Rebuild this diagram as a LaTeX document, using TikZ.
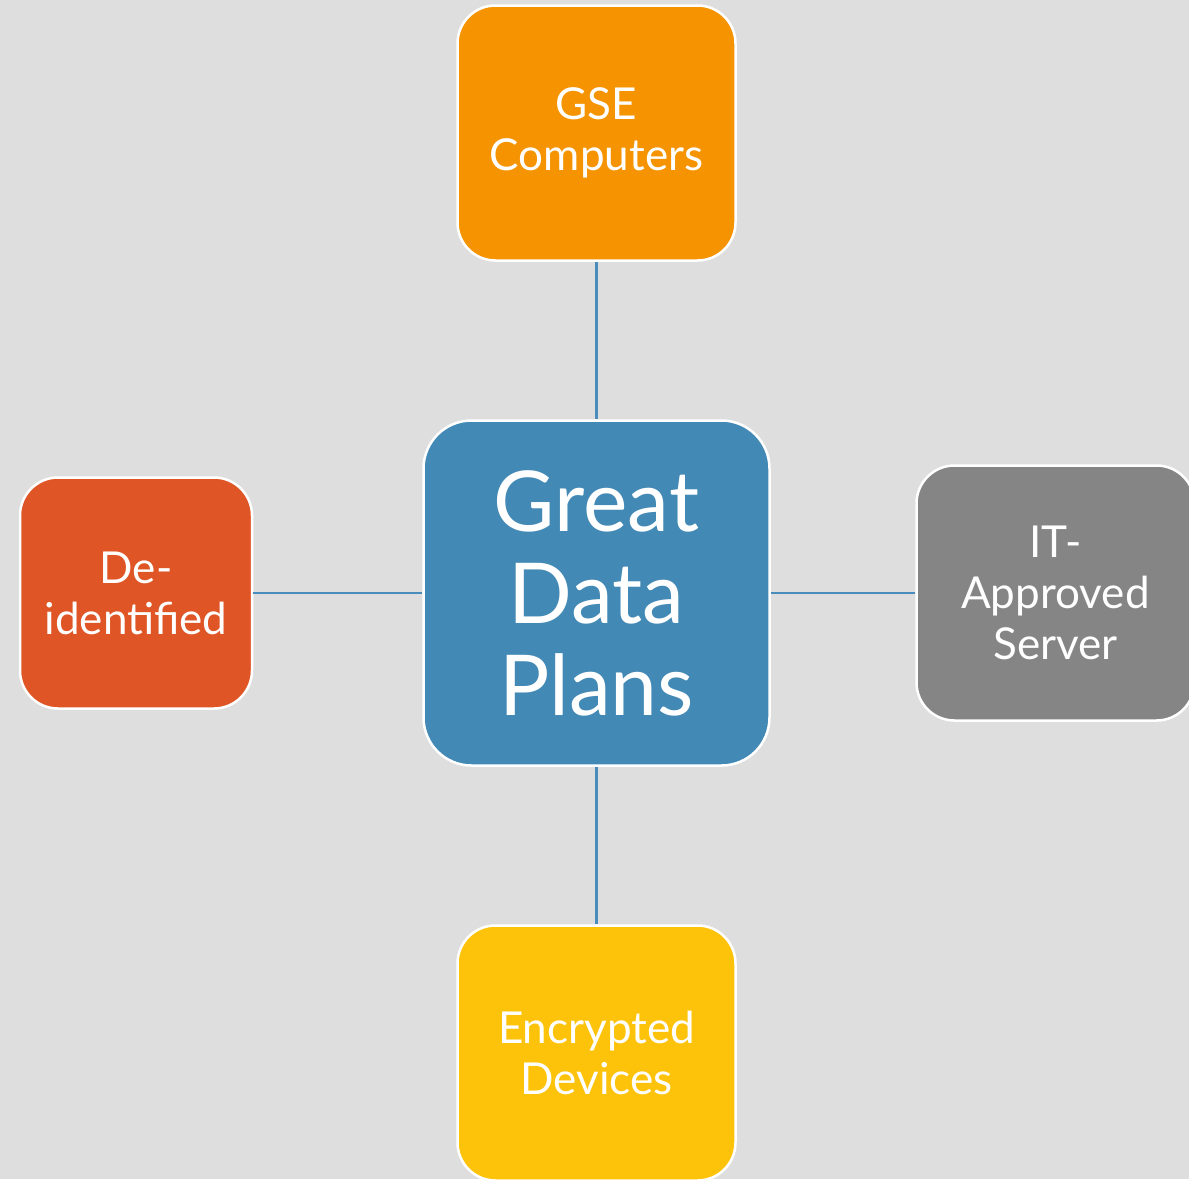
\documentclass[tikz,border=0pt]{standalone}
\usepackage{fontspec}
\setmainfont{Lato}
\definecolor{bgc}{HTML}{DEDEDE}
\definecolor{bluec}{HTML}{4289B5}
\definecolor{orangec}{HTML}{F59400}
\definecolor{redc}{HTML}{E05526}
\definecolor{grayc}{HTML}{858585}
\definecolor{yellowc}{HTML}{FDC30B}
\definecolor{linec}{HTML}{4A8CBB}
\tikzset{
  box/.style={draw=white, line width=2.5pt, rounded corners=38pt, text=white,
    align=center, inner sep=0pt, font=\fontsize{44}{51}\selectfont},
  link/.style={draw=linec, line width=2.2pt}
}
\begin{document}
\begin{tikzpicture}[x=1pt,y=-1pt]
\useasboundingbox (0,0) rectangle (1189,1179);
\fill[bgc] (0,0) rectangle (1189,1179);
\clip (0,0) rectangle (1189,1179);
\node[box, fill=bluec, minimum width=346pt, minimum height=345pt, rounded corners=48pt,
  font=\fontsize{84}{92}\selectfont] (c) at (596.5,593) {Great\\Data\\Plans};
\node[box, fill=orangec, minimum width=278pt, minimum height=255pt] (t) at (596.5,133) {GSE\\Computers};
\node[box, fill=yellowc, minimum width=278pt, minimum height=255pt] (b) at (596.5,1053) {Encrypted\\Devices};
\node[box, fill=redc, minimum width=232pt, minimum height=231pt] (l) at (136,593) {De-\\identified};
\node[box, fill=grayc, minimum width=278pt, minimum height=255pt] (r) at (1055.5,593) {IT-\\Approved\\Server};
\draw[link] (t) -- (c);
\draw[link] (c) -- (b);
\draw[link] (l) -- (c);
\draw[link] (c) -- (r);
\end{tikzpicture}
\end{document}
